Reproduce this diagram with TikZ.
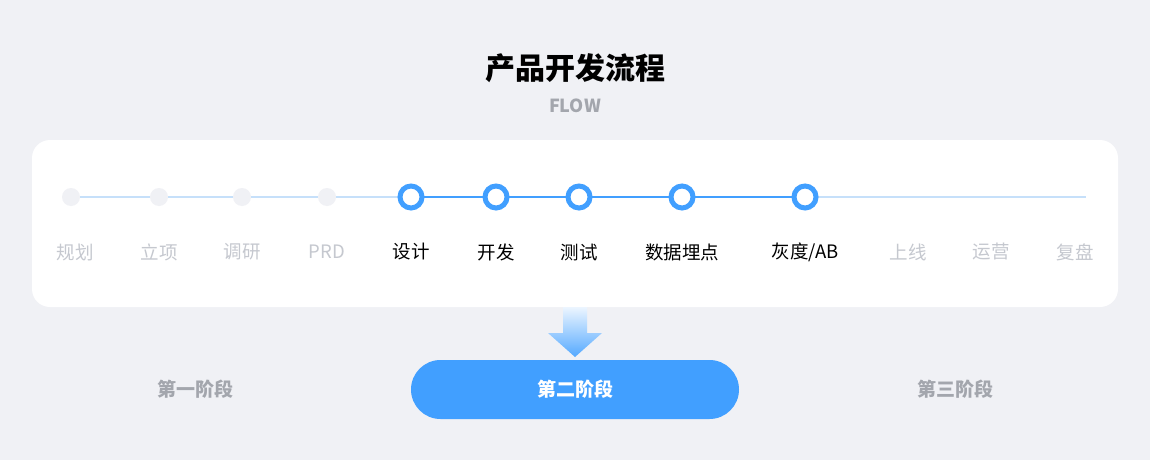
\documentclass[tikz,border=0pt]{standalone}
\usepackage{fontspec}
\setmainfont{Noto Sans CJK SC}
\usepackage{tikz}
\usetikzlibrary{positioning,shadings}
\definecolor{bgGrey}{HTML}{F0F1F5}
\definecolor{mainBlue}{HTML}{419FFF}
\definecolor{paleBlue}{HTML}{C6E0FA}
\definecolor{dimText}{HTML}{C5C8CF}
\definecolor{stageText}{HTML}{A3A6AD}
\tikzset{
  doneDot/.style={circle, fill=bgGrey, minimum size=18pt, inner sep=0pt},
  activeDot/.style={circle, draw=mainBlue, line width=5pt, fill=white, minimum size=22pt, inner sep=0pt},
  dimlbl/.style={text=dimText, font=\fontsize{18.5}{18.5}\selectfont},
  onlbl/.style={text=black, font=\fontsize{18.5}{18.5}\selectfont},
  stage/.style={text=stageText, font=\bfseries\fontsize{19}{19}\selectfont}
}
\begin{document}
\begin{tikzpicture}[x=1pt, y=-1pt]
  \fill[bgGrey] (0,0) rectangle (1150,460);
  \useasboundingbox (0,0) rectangle (1150,460);
  \node[font=\bfseries\fontsize{30}{30}\selectfont] (title) at (575,68) {产品开发流程};
  \node[text=stageText, font=\bfseries\fontsize{18}{18}\selectfont] (sub) at (575,106) {FLOW};
  \fill[white, rounded corners=18pt] (32,140) rectangle (1118,307);
  % timeline
  \coordinate (tEnd) at (1086,197);
  \coordinate (p1) at (71,197);
  \coordinate (p5) at (411,197);
  \coordinate (p9) at (805,197);
  \draw[paleBlue, line width=1.5pt] (p1) -- (p5) (p9) -- (tEnd);
  \draw[mainBlue, line width=1.5pt] (p5) -- (p9);
  \node[doneDot] (n1) at (71,197) {};
  \node[doneDot] (n2) at (159,197) {};
  \node[doneDot] (n3) at (242,197) {};
  \node[doneDot] (n4) at (327,197) {};
  \node[activeDot] (n5) at (411,197) {};
  \node[activeDot] (n6) at (496,197) {};
  \node[activeDot] (n7) at (579,197) {};
  \node[activeDot] (n8) at (682,197) {};
  \node[activeDot] (n9) at (805,197) {};
  % labels
  \foreach \x/\t in {75/规划, 159/立项, 242/调研, 327/PRD, 908/上线, 991/运营, 1075/复盘}
    \node[dimlbl] at (\x,252) {\t};
  \foreach \x/\t in {411/设计, 496/开发, 579/测试, 682/数据埋点, 805/{灰度/AB}}
    \node[onlbl] at (\x,252) {\t};
  % arrow
  \shade[top color=mainBlue!10, bottom color=mainBlue!90] (563,307) -- (587,307) -- (587,333) -- (602,333) -- (575,357) -- (548,333) -- (563,333) -- cycle;
  % stages
  \node[stage] (s1) at (195,389) {第一阶段};
  \fill[mainBlue, rounded corners=29.5pt] (411,360) rectangle (739,419);
  \node[text=white, font=\bfseries\fontsize{19}{19}\selectfont] (s2) at (575,389) {第二阶段};
  \node[stage] (s3) at (955,389) {第三阶段};
\end{tikzpicture}
\end{document}
